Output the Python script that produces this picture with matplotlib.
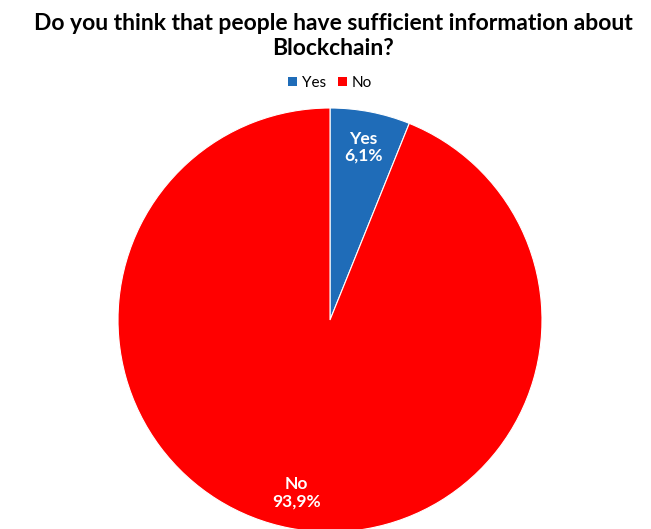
import matplotlib.pyplot as plt
from matplotlib.patches import Patch

plt.rcParams['font.family'] = ['Lato', 'DejaVu Sans']

labels = ['Yes', 'No']
values = [6.1, 93.9]
colors = ['#1f6cb8', '#ff0000']
pct_text = ['6,1%', '93,9%']

fig = plt.figure(figsize=(6.51, 5.29), dpi=100)

# pie axes: square box so the circle fills it
ax = fig.add_axes([118/651, -3/529, 424/651, 424/529])
wedges, texts = ax.pie(values, colors=colors, startangle=90, counterclock=False,
                       radius=1.0, labels=[l + '\n' + p for l, p in zip(labels, pct_text)],
                       labeldistance=0.83,
                       wedgeprops=dict(edgecolor='white', linewidth=0.8),
                       textprops=dict(color='white', fontsize=12.5, fontweight='bold',
                                      ha='center', va='center', linespacing=1.1))
ax.set_xlim(-1, 1)
ax.set_ylim(-1, 1)
ax.set_aspect('equal')
ax.axis('off')

fig.text(0.512, 1 - 36/529, 'Do you think that people have sufficient information about\nBlockchain?',
         ha='center', va='center', fontsize=16.5, fontweight='bold', linespacing=1.2)

handles = [Patch(facecolor=c, edgecolor='none') for c in colors]
fig.legend(handles, labels, loc='center', bbox_to_anchor=(330/651, 1 - 83/529), ncol=2,
           frameon=False, fontsize=11, handlelength=0.6, handleheight=0.6,
           handletextpad=0.3, columnspacing=0.8)

fig.savefig('out.png', dpi=100)
